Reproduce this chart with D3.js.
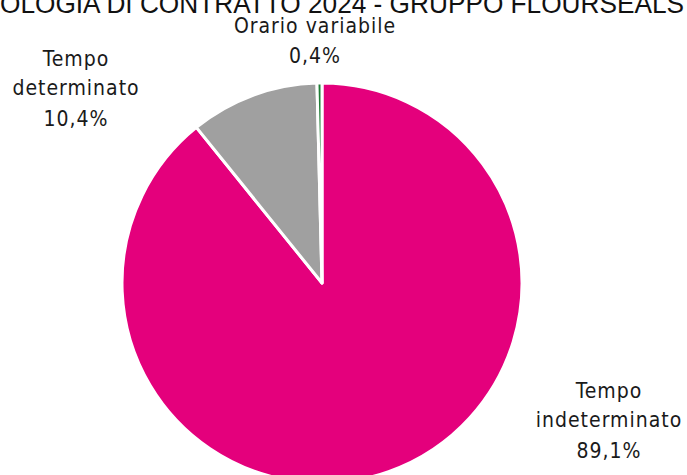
<!DOCTYPE html>
<html><head><meta charset="utf-8">
<script src="https://cdn.jsdelivr.net/npm/d3@7"></script>
<style>body{margin:0;background:#fff;overflow:hidden}</style>
</head><body>
<svg id="c" width="687" height="475"></svg>
<script>
const categories = ["Tempo indeterminato", "Tempo determinato", "Orario variabile"];
const values = [89.1, 10.4, 0.4];
const valueLabels = ["89,1%", "10,4%", "0,4%"];
const colors = ["#E4007C", "#A0A0A0", "#1E7B34"];
const title = "TIPOLOGIA DI CONTRATTO 2024 - GRUPPO FLOURSEALS";

const svg = d3.select("#c");
const cx = 322, cy = 283, r = 200;
const data = categories.map((c,i)=>({c, v: values[i], l: valueLabels[i], col: colors[i]}));
const pie = d3.pie().value(d=>d.v).sort(null);
const arc = d3.arc().innerRadius(0).outerRadius(r);
const g = svg.append("g").attr("transform",`translate(${cx},${cy})`);
g.selectAll("path").data(pie(data)).join("path")
  .attr("d", arc).attr("fill", d=>d.data.col)
  .attr("stroke","#fff").attr("stroke-width",3).attr("stroke-linejoin","round");

// title: measure to fit the visible part "OLOGIA ... FLOURSEALS" across the width
const tfont = {family:"Liberation Sans, Arial, sans-serif", size:27};
function measure(s){
  const t = svg.append("text").attr("font-family",tfont.family).attr("font-size",tfont.size).text(s);
  const w = t.node().getComputedTextLength(); t.remove(); return w;
}
const wFull = measure(title), wPre = measure("TIP");
const sc = 684 / (wFull - wPre);
svg.append("text").attr("x", -wPre*sc).attr("y",13)
  .attr("font-family",tfont.family).attr("font-size",tfont.size)
  .attr("textLength", wFull*sc).attr("lengthAdjust","spacingAndGlyphs")
  .attr("fill","#111").text(title);

const labelPos = [
  {x:609, y:[398,427,458], lines:["Tempo","indeterminato"]},
  {x:76, y:[66,95,126], lines:["Tempo","determinato"]},
  {x:315, y:[33,63], lines:["Orario variabile"]}
];
data.forEach((d,i)=>{
  const p = labelPos[i];
  const t = svg.append("text").attr("text-anchor","middle")
    .attr("font-family","DejaVu Sans Condensed, Roboto, sans-serif").attr("font-size",21)
    .attr("letter-spacing","1px").attr("fill","#1a1a1a");
  const lines = p.lines.concat([d.l]);
  lines.forEach((ln,j)=>t.append("tspan").attr("x",p.x).attr("y",p.y[j]).text(ln));
});
</script>
</body></html>
